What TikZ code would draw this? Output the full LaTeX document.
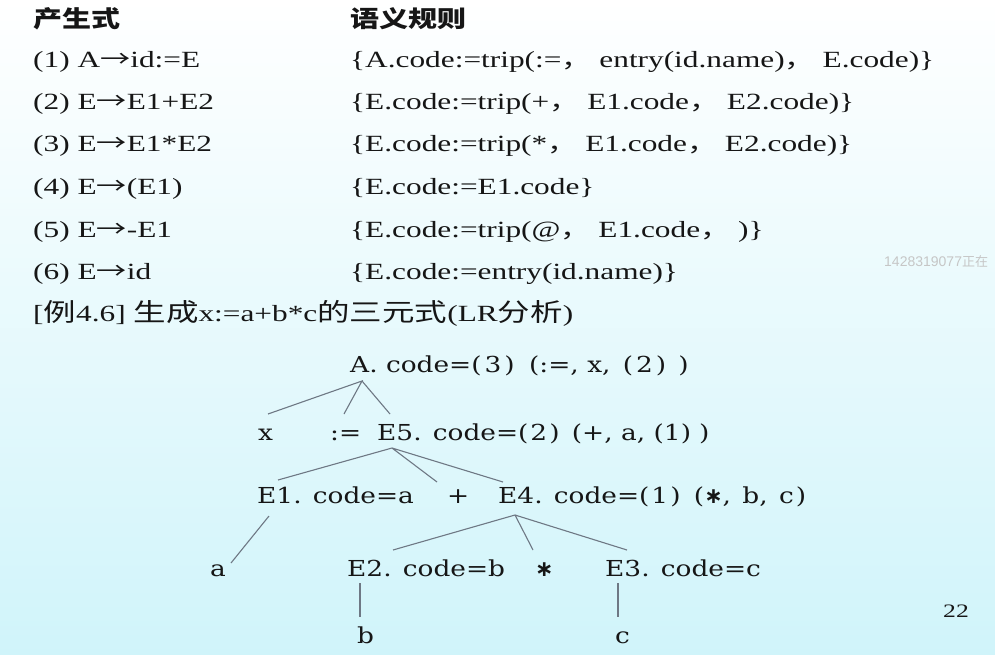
\documentclass[tikz,border=0pt]{standalone}
\usepackage{fontspec}
\setmainfont{Liberation Serif}[FakeStretch=1.35]
\newfontfamily\cjk{Noto Sans CJK SC}[FakeStretch=1.3]
\newfontfamily\cjkh{Noto Sans CJK SC}[FakeStretch=1.25]
\newfontfamily\treefont{DejaVu Serif}[FakeStretch=1.2]
\newfontfamily\astfont{DejaVu Sans}
\newfontfamily\wmfont{Liberation Sans}
\newfontfamily\wmcjk{Noto Sans CJK SC}
\newcommand\zcomma{{\cjk ，}}
\newcommand\arr{{\cjk →}}
\newcommand\tast{{\astfont\bfseries ∗}}
\definecolor{ink}{RGB}{22,22,22}
\definecolor{linec}{RGB}{110,120,132}
\definecolor{bgmid}{RGB}{250,254,255}
\definecolor{bgbot}{RGB}{208,244,250}
\begin{document}
\begin{tikzpicture}[x=1pt,y=-1pt,
  t/.style={anchor=base west, inner sep=0pt, font=\fontsize{23.2}{23.2}\selectfont, text=ink},
  tr/.style={anchor=base west, inner sep=0pt, font=\treefont\fontsize{22}{22}\selectfont, text=ink},
  link/.style={draw=linec, line width=1.1pt}]
\shade[top color=white, middle color=bgmid, bottom color=bgbot] (0,0) rectangle (995,655);
\useasboundingbox (0,0) rectangle (995,655);
% headings
\node[t] (h1) at (33,28) {\cjkh\bfseries 产生式};
\node[t] (h2) at (350,28) {\cjkh\bfseries 语义规则};
% productions
\node[t] (p1) at (33,68)  {(1) A\arr id:=E};
\node[t] (p2) at (33,110) {(2) E\arr E1+E2};
\node[t] (p3) at (33,152) {(3) E\arr E1*E2};
\node[t] (p4) at (33,194) {(4) E\arr (E1)};
\node[t] (p5) at (33,237) {(5) E\arr -E1};
\node[t] (p6) at (33,279) {(6) E\arr id};
% rules
\node[t] (r1) at (350,68)  {\{A.code:=trip(:=\zcomma{} entry(id.name)\zcomma{} E.code)\}};
\node[t] (r2) at (350,110) {\{E.code:=trip(+\zcomma{} E1.code\zcomma{} E2.code)\}};
\node[t] (r3) at (350,152) {\{E.code:=trip(*\zcomma{} E1.code\zcomma{} E2.code)\}};
\node[t] (r4) at (350,194) {\{E.code:=E1.code\}};
\node[t] (r5) at (350,237) {\{E.code:=trip(@\zcomma{} E1.code\zcomma{} )\}};
\node[t] (r6) at (350,279) {\{E.code:=entry(id.name)\}};
\node[t] (ex) at (33,321) {[{\cjk\fontsize{25}{25}\selectfont 例}4.6] {\cjk\fontsize{25}{25}\selectfont 生成}x:=a+b*c{\cjk\fontsize{25}{25}\selectfont 的三元式}(LR{\cjk\fontsize{25}{25}\selectfont 分析})};
% watermark and page number
\node[anchor=base west, inner sep=0pt, text=gray!45, font=\wmfont\fontsize{14}{14}\selectfont] (wm) at (884,266) {1428319077{\wmcjk\fontsize{13}{13}\selectfont 正在}};
\node[anchor=base west, inner sep=0pt, text=ink, font=\fontsize{19}{19}\selectfont] (pg) at (943,617) {22};
% tree nodes
\node[tr] (A)  at (350,372) {A. code=(\kern3pt 3\kern3pt) \kern6pt(:=, x, \kern4pt(\kern3pt 2\kern3pt)\kern12pt)};
\node[tr] (x)  at (258,440) {x};
\node[tr] (as) at (330,440) {:=};
\node[tr] (E5) at (377,440) {E5. code=(\kern2pt 2\kern2pt) \kern4pt(+, a, (1)\kern8pt)};
\node[tr] (E1) at (257,503) {E1. code=a};
\node[tr] (pl) at (447,503) {+};
\node[tr] (E4) at (498,503) {E4. code=(\kern2pt 1\kern2pt) \kern5pt(\tast, \kern3pt b, \kern3pt c\kern2pt)};
\node[tr] (a)  at (210,576) {a};
\node[tr] (E2) at (347,576) {E2. code=b};
\node[tr] (st) at (535,576) {\tast};
\node[tr] (E3) at (605,576) {E3. code=c};
\node[tr] (b)  at (357,643) {b};
\node[tr] (c)  at (615,643) {c};
% connector points
\coordinate (Aap) at (362,381);
\coordinate (xt) at (268,414);
\coordinate (ast) at (344,414);
\coordinate (E5t) at (390,414);
\coordinate (E5ap) at (392,448);
\coordinate (E1t) at (278,480);
\coordinate (plt) at (437,482);
\coordinate (E4t) at (503,482);
\coordinate (E1b) at (269,516);
\coordinate (at) at (231,563);
\coordinate (E4ap) at (515,515);
\coordinate (E2t) at (393,550);
\coordinate (stt) at (533,550);
\coordinate (E3t) at (627,550);
\coordinate (E2b) at (360,583);
\coordinate (bt) at (360,617);
\coordinate (E3b) at (618,583);
\coordinate (ct) at (618,617);
\draw[link] (xt) -- (Aap) -- (ast) (Aap) -- (E5t);
\draw[link] (E1t) -- (E5ap) -- (plt) (E5ap) -- (E4t);
\draw[link] (E1b) -- (at);
\draw[link] (E2t) -- (E4ap) -- (stt) (E4ap) -- (E3t);
\draw[link] (E2b) -- (bt);
\draw[link] (E3b) -- (ct);
\end{tikzpicture}
\end{document}
